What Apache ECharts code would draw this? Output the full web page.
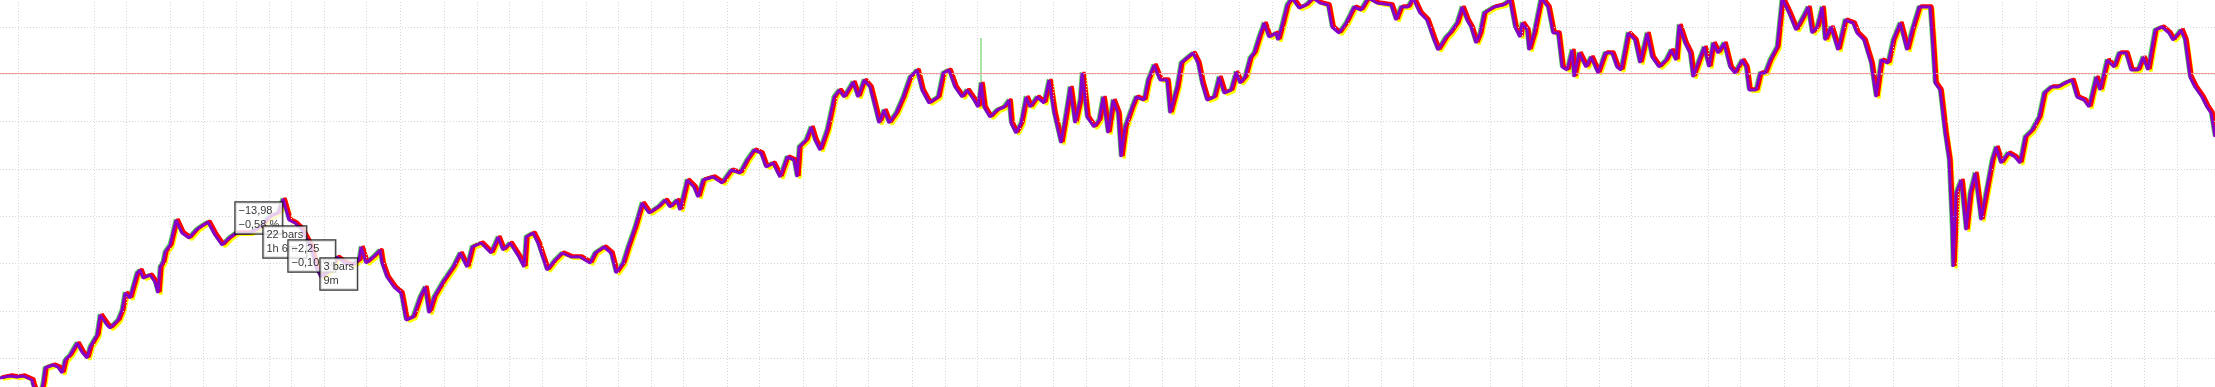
<!DOCTYPE html>
<html>
<head>
<meta charset="utf-8">
<script src="https://cdn.jsdelivr.net/npm/echarts@6/dist/echarts.min.js"></script>
<style>
html,body{margin:0;padding:0;background:#fff;}
#c{width:2215px;height:387px;}
</style>
</head>
<body>
<div id="c"></div>
<script>
// ---- data (bar index, close price) ----
const bars = [0,10,17,23,32,33,37,41,43,45,53,58,62,65,70,77,82,87,90,97,100,107,110,118,122,125,130,133,137,140,143,150,155,158,160,163,165,170,176,182,189,196,200,208,215,222,229,236,250,260,269,278,283,289,295,302,311,316,321,330,337,345,352,359,361,366,373,380,382,387,394,401,406,413,420,425,429,434,444,453,460,467,472,481,491,498,503,510,519,524,526,533,538,547,555,562,571,580,590,595,604,611,616,623,628,635,642,649,658,665,670,677,680,687,694,698,703,713,722,731,740,747,754,761,766,773,780,787,794,797,799,806,811,815,820,827,832,834,839,844,853,858,864,870,875,879,884,889,896,903,910,917,922,929,938,943,949,955,962,967,974,978,981,984,990,997,1004,1009,1011,1016,1021,1026,1030,1037,1044,1049,1054,1061,1066,1070,1075,1080,1082,1087,1094,1099,1103,1108,1113,1118,1121,1125,1132,1136,1144,1148,1154,1160,1167,1170,1177,1181,1188,1193,1198,1202,1207,1214,1219,1224,1231,1236,1240,1245,1250,1254,1259,1264,1269,1276,1278,1282,1287,1292,1299,1306,1313,1320,1328,1332,1339,1346,1354,1361,1368,1377,1391,1396,1401,1408,1413,1420,1427,1434,1438,1446,1450,1457,1462,1467,1471,1476,1480,1484,1494,1503,1510,1515,1520,1522,1527,1529,1534,1541,1548,1553,1558,1562,1567,1572,1574,1579,1586,1591,1598,1605,1612,1617,1621,1628,1635,1640,1647,1652,1659,1666,1671,1676,1679,1685,1690,1693,1699,1704,1709,1713,1718,1724,1730,1735,1742,1746,1749,1756,1760,1765,1770,1777,1782,1789,1796,1803,1808,1812,1817,1822,1825,1831,1838,1845,1853,1857,1864,1871,1876,1881,1888,1893,1900,1907,1912,1919,1926,1930,1933,1935,1940,1945,1949,1952,1953,1956,1961,1966,1970,1975,1981,1987,1992,1996,2001,2008,2015,2020,2025,2032,2039,2044,2051,2058,2065,2072,2077,2084,2089,2096,2100,2107,2114,2119,2126,2131,2138,2143,2148,2152,2155,2162,2169,2173,2181,2185,2190,2195,2202,2207,2211,2215];
const close = [2311,2312,2311.5,2312,2310,2307.5,2302.5,2303.5,2308.5,2316,2317.5,2316.5,2313.5,2320,2322.5,2328.5,2324,2321,2326.5,2332.5,2342.5,2337.5,2336,2340,2345,2353.5,2351,2356.5,2363.5,2365,2361,2362.5,2359,2353.5,2366.5,2369,2374,2377.5,2390,2383.5,2381,2385,2386.5,2389,2382.5,2377.5,2381,2383.5,2383.5,2386.5,2391.5,2393.5,2400.5,2390,2388.5,2385,2376.5,2366.5,2361.5,2365,2371.5,2368.5,2367.5,2370,2376.5,2368.5,2371.5,2375,2368.5,2361.5,2356.5,2353.5,2340,2341.5,2351.5,2356.5,2343.5,2351.5,2360,2366.5,2373.5,2366.5,2376.5,2378.5,2373.5,2381.5,2375,2378.5,2371.5,2366.5,2381.5,2383.5,2378.5,2365,2370,2373.5,2371.5,2371.5,2368.5,2373.5,2376.5,2373.5,2363.5,2368.5,2376.5,2386.5,2398.5,2393.5,2396.5,2400,2396.5,2400,2395,2410,2406.5,2401.5,2410,2411.5,2408.5,2415,2413.5,2420,2425,2423.5,2416.5,2418.5,2411.5,2421.5,2420,2411.5,2426.5,2430,2436.5,2430,2425,2435,2446.5,2451.5,2455,2451.5,2459,2451.5,2460,2456.5,2446.5,2438.5,2445,2438.5,2443.5,2451.5,2461.5,2465,2455,2448.5,2451.5,2463.5,2465,2456.5,2451.5,2455,2450,2446.5,2458.5,2446.5,2441.5,2445,2446.5,2450,2438.5,2433.5,2438.5,2451.5,2446.5,2451.5,2448.5,2460,2443.5,2428.5,2443.5,2456.5,2438.5,2450,2463.5,2441.5,2436.5,2440,2451.5,2433.5,2450,2443.5,2421.5,2436.5,2446.5,2451.5,2450,2460,2467.5,2460,2460,2443.5,2456.5,2468.5,2471.5,2473.5,2468.5,2458.5,2450,2451.5,2461.5,2453.5,2455,2464,2458.5,2461.5,2471,2473.5,2481.5,2488.5,2481.5,2483.5,2480,2487.5,2497.5,2501,2496,2497.5,2501,2498.5,2497.5,2486.5,2483.5,2488.5,2496.5,2495,2501,2498.5,2497.5,2490,2496.5,2496.5,2501,2493.5,2490,2480,2475,2481.5,2483.5,2488.5,2496.5,2490,2486.5,2478.5,2483.5,2493.5,2496.5,2497.5,2500,2486.5,2481.5,2488.5,2485,2475,2483.5,2501,2496.5,2483.5,2483.5,2466.5,2465,2475,2461.5,2473.5,2466.5,2471.5,2463.5,2473.5,2473.5,2466.5,2465,2483.5,2480,2468.5,2483.5,2471.5,2466.5,2470,2475,2470,2487.5,2478.5,2473.5,2461.5,2470,2476.5,2466.5,2478.5,2473.5,2478.5,2466.5,2463.5,2470,2466.5,2455,2455,2463.5,2463.5,2470,2476.5,2501,2493.5,2485,2491.5,2496.5,2483.5,2486.5,2496.5,2480,2486.5,2475,2490,2488.5,2483.5,2480,2468.5,2451.5,2470,2468.5,2480,2488.5,2475,2485,2496.5,2496.5,2496.5,2475,2458.5,2455,2433.5,2420,2386.5,2366.5,2403.5,2410,2385,2403.5,2413.5,2390,2406.5,2420,2426.5,2418.5,2423.5,2421.5,2418.5,2431.5,2435,2441.5,2453.5,2456.5,2456.5,2458.5,2460,2451.5,2450,2446.5,2461.5,2455,2470,2466.5,2473.5,2473.5,2465,2465,2471.5,2465,2476.5,2485,2486.5,2483.5,2480,2485,2480,2461.5,2456.5,2451.5,2446.5,2443.5,2431.5];

// single outlier tick (green) near bar 981
const spikeBars = [981, 981];
const spikePrice = [2457.5, 2481];

// reference level (horizontal red line)
const refLevel = 2463.5;

// grid line positions (bar index / price)
const vGridBars = [18,94,126,170,203,236,269,291,324,366,400,444,477,509,542,586,618,651,683,727,759,803,836,868,912,945,977,1020,1053,1086,1129,1162,1195,1239,1272,1304,1348,1381,1413,1490,1522,1566,1599,1631,1708,1740,1784,1817,1849,1893,1958,2002,2036,2068,2111,2144,2177];
const hGridPrices = [2486.5,2463,2439.5,2415.5,2392,2368.5,2344.5,2321];

// measurement annotations
const annBars  = [236, 264, 289, 321];
const annPrice = [2398.5, 2386.5, 2379.5, 2370.5];
const annText  = ['\u221213,98\n\u22120,58 %', '22 bars\n1h 6m', '\u22122,25\n\u22120,10 %', '3 bars\n9m'];

// ---- chart ----
const X_MIN = 0, X_SPAN = 2215;
const Y_MIN = 2306.5, Y_MAX = 2500;
const line = bars.map((b, i) => [b, close[i]]);
const spike = spikeBars.map((b, i) => [b, spikePrice[i]]);

function xa(shift) { return {type:'value', min: X_MIN - shift, max: X_MIN - shift + X_SPAN, show:false, splitLine:{show:false}}; }
function ya(shiftPx) { const d = shiftPx * (Y_MAX - Y_MIN) / 387; return {type:'value', min: Y_MIN + d, max: Y_MAX + d, show:false, splitLine:{show:false}}; }

const gridStyle = {color:'#d6d6d6', width:1, type:[1,2]};

const series = [
  {
    type:'line', data:[], xAxisIndex:0, yAxisIndex:0, z:1, silent:true,
    markLine:{
      silent:true, symbol:'none', animation:false, label:{show:false},
      lineStyle:gridStyle,
      data: vGridBars.map(x => ({xAxis:x}))
        .concat(hGridPrices.map(y => ({yAxis:y})))
        .concat([{yAxis:refLevel, lineStyle:{color:'#f29b9b', width:1, type:'solid'}}])
    }
  },
  {type:'line', data:line, xAxisIndex:1, yAxisIndex:1, z:2, symbol:'none', showSymbol:false, silent:true,
   lineStyle:{color:'#ffff00', width:3.2}},
  {type:'line', data:line, xAxisIndex:3, yAxisIndex:2, z:3, symbol:'none', showSymbol:false, silent:true,
   lineStyle:{color:'#5fd35f', width:1.6}},
  {type:'line', data:spike, xAxisIndex:0, yAxisIndex:0, z:3, symbol:'none', showSymbol:false, silent:true,
   lineStyle:{color:'#4fc94f', width:1}},
  {type:'line', data:line, xAxisIndex:2, yAxisIndex:2, z:4, symbol:'none', showSymbol:false, silent:true,
   lineStyle:{color:'#ff0000', width:3.4}},
  {type:'line', data:line, xAxisIndex:0, yAxisIndex:0, z:5, symbol:'none', showSymbol:false, silent:true,
   lineStyle:{color:'#8400c8', width:3}}
];

annBars.forEach((b, i) => {
  series.push({
    type:'scatter', xAxisIndex:0, yAxisIndex:0, z:10 + i, silent:true,
    symbol:'rect', symbolSize:1, itemStyle:{color:'rgba(0,0,0,0)'},
    data:[{value:[b, annPrice[i]], name:annText[i]}],
    label:{
      show:true, position:[0,0], formatter:'{b}',
      fontFamily:'Liberation Sans, Arial, sans-serif', fontSize:11, lineHeight:14, color:'#000',
      backgroundColor:'#fff', borderColor:'#000', borderWidth:1.2, padding:[1,3,2,3],
      align:'left', verticalAlign:'top'
    }
  });
});

const chart = echarts.init(document.getElementById('c'), null, {renderer:'canvas'});
chart.setOption({
  animation:false,
  backgroundColor:'#ffffff',
  grid:{left:0, right:0, top:0, bottom:0},
  xAxis:[xa(0), xa(3), xa(2), xa(-1.5)],
  yAxis:[ya(0), ya(1.5), ya(-1)],
  series: series
});
</script>
</body>
</html>
